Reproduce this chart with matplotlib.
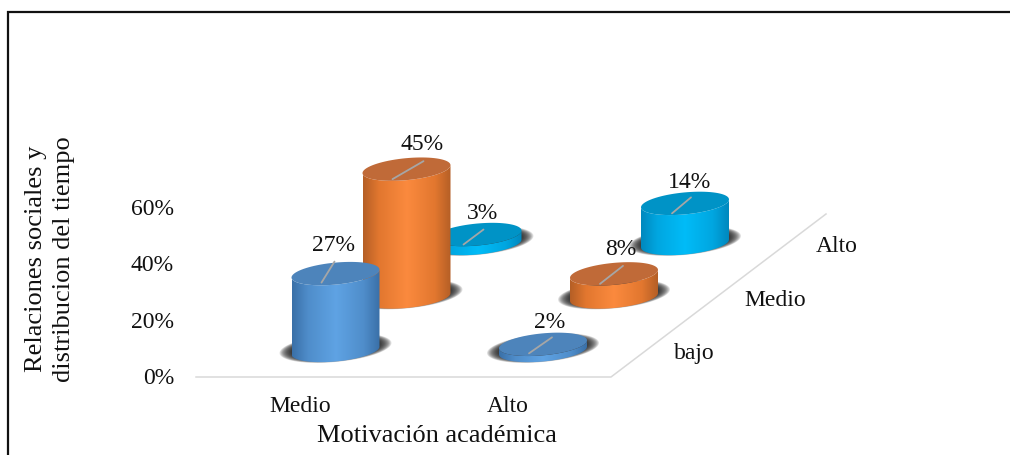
import matplotlib
matplotlib.use('Agg')
import matplotlib.pyplot as plt
from matplotlib.colors import LinearSegmentedColormap
from matplotlib.patches import Polygon
import numpy as np

plt.rcParams['font.family'] = ['Liberation Serif', 'DejaVu Serif']

# data
x_categories = ['Medio', 'Alto']
depth_categories = ['bajo', 'Medio', 'Alto']
y_ticks = [0, 20, 40, 60]
values = [[27, 45, 3],
          [2, 8, 14]]

x_title = 'Motivación académica'
y_title = 'Relaciones sociales y\ndistribucion del tiempo'

# colours per depth row: side edge, side shoulder, side centre, top
row_colors = [('#3a70a8', '#4f8dca', '#5fa3e4', '#4d84bb'),
              ('#b55f26', '#e2772f', '#fb8a3e', '#c06a38'),
              ('#0088be', '#00a6e0', '#00bcf8', '#0093c6')]

# where each leader line and label sits relative to the top of its bar
leader_start = [[(-14, 9), (-14, 10), (-14, 10)],
                [(-14, 9), (-14, 10), (-13, 10)]]
leader_end = [[(-1, -12), (17, -8), (6, -5)],
              [(9, -7), (9, -8), (6, -6)]]
label_shift = [[(-2, -28), (16, -25), (5, -21)],
               [(7, -22), (7, -24), (5, -21)]]

depth_label_x = [694, 775.5, 836.5]

RX, RY, SHEAR = 44, 11, -0.09


def project(i, j, v):
    # category / depth / percent to pixel position
    x = 335.5 + 207.5 * i + 71 * j
    y = 350 - 53.5 * j - 2.83 * v
    return x, y


def arc(cx, cy, t0, t1, rx=RX, ry=RY, n=80):
    t = np.linspace(t0, t1, n)
    dx = rx * np.cos(t)
    return np.column_stack([cx + dx, cy + ry * np.sin(t) + SHEAR * dx])


def draw_shadow(ax, cx, cy, zorder):
    for k in np.linspace(1, 0, 16):
        pts = arc(cx, cy - 2, 0, 2 * np.pi, rx=RX + 12 * k, ry=RY + 3 * k)
        ax.add_patch(Polygon(pts, closed=True, fc='#222222', ec='none', alpha=0.12, zorder=zorder))


def draw_cylinder(ax, i, j, v, zorder):
    edge, shoulder, mid, top = row_colors[j]
    cx, base = project(i, j, 0)
    _, ytop = project(i, j, v)
    draw_shadow(ax, cx, base, zorder)

    # side with horizontal shading, clipped to the cylinder outline
    lower = arc(cx, base + 0.5, np.pi, 0)
    upper = arc(cx, ytop, 0, np.pi)
    side = Polygon(np.vstack([lower, upper]), closed=True, fc='none', ec='none', zorder=zorder + 0.1)
    ax.add_patch(side)
    cmap = LinearSegmentedColormap.from_list('side', [(0, edge), (0.18, shoulder), (0.5, mid),
                                                      (0.82, shoulder), (1, edge)])
    shade = np.linspace(0, 1, 128).reshape(1, -1)
    im = ax.imshow(shade, cmap=cmap, aspect='auto', zorder=zorder + 0.2,
                   extent=(cx - RX, cx + RX, base + RY + 6, ytop - RY - 6))
    im.set_clip_path(side)

    ax.add_patch(Polygon(arc(cx, ytop, 0, 2 * np.pi), closed=True, fc=top, ec='none', zorder=zorder + 0.3))

    s = leader_start[i][j]
    e = leader_end[i][j]
    ax.plot([cx + s[0], cx + e[0]], [ytop + s[1], ytop + e[1]], color='#a6a6a6', lw=1.3,
            solid_capstyle='round', zorder=zorder + 0.4)
    lx, ly = label_shift[i][j]
    ax.text(cx + lx, ytop + ly, f'{v}%', ha='center', va='center', fontsize=17, color='#111111', zorder=30)


fig = plt.figure(figsize=(10.1, 4.55), dpi=100)
ax = fig.add_axes([0, 0, 1, 1])
ax.set_xlim(0, 1010)
ax.set_ylim(455, 0)
ax.axis('off')

# chart frame, open on the right
ax.plot([8, 8], [455, 11], color='#111111', lw=1.6, solid_capstyle='butt', zorder=1)
ax.plot([7, 1010], [11.5, 11.5], color='#111111', lw=1.6, solid_capstyle='butt', zorder=1)

# floor edges
ax.plot([196, 611, 826], [377, 377, 214], color='#d9d9d9', lw=1.1, zorder=1)

# back rows first so the front ones overlap them
for j in reversed(range(len(depth_categories))):
    for i in range(len(x_categories)):
        draw_cylinder(ax, i, j, values[i][j], zorder=5 + 3 * (2 - j))

for t in y_ticks:
    _, y = project(0, 0, t)
    ax.text(174, y + 27 + 2, f'{t}%', ha='right', va='center', fontsize=17, color='#111111')

for i, name in enumerate(x_categories):
    ax.text(300 + 208 * i, 407, name, ha='center', va='center', fontsize=17, color='#111111')

for j, name in enumerate(depth_categories):
    ax.text(depth_label_x[j], 353.5 - 53.5 * j, name, ha='center', va='center', fontsize=17, color='#111111')

ax.text(436.5, 436, x_title, ha='center', va='center', fontsize=19, color='#111111')
ax.text(50, 259, y_title, ha='center', va='center', rotation=90, fontsize=19, color='#111111',
        linespacing=1.32)

fig.savefig('out.png', dpi=100)
